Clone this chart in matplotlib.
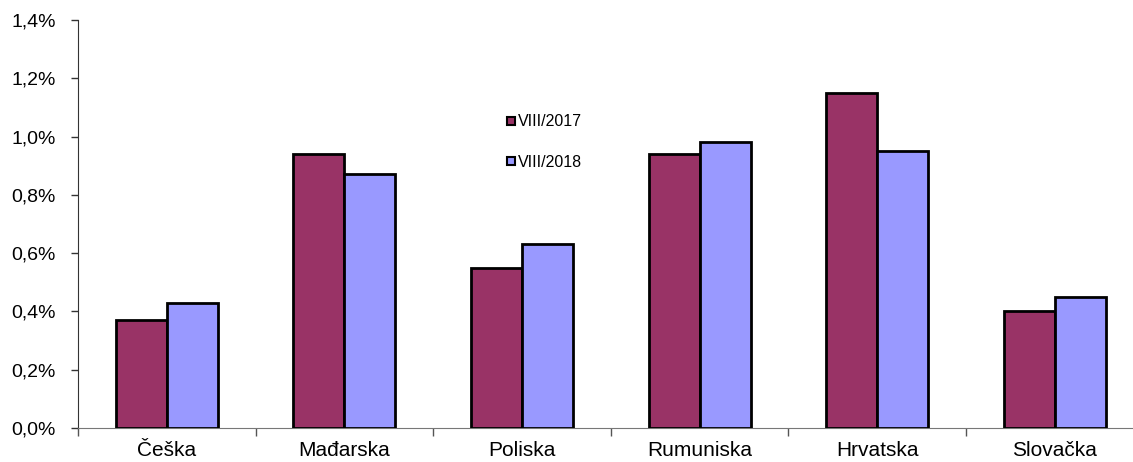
import matplotlib.pyplot as plt
import numpy as np
from matplotlib.lines import Line2D
from matplotlib.ticker import FuncFormatter

# data
countries = ['Češka', 'Mađarska', 'Poliska', 'Rumuniska', 'Hrvatska', 'Slovačka']
v2017 = [0.37, 0.94, 0.55, 0.94, 1.15, 0.40]
v2018 = [0.43, 0.87, 0.63, 0.98, 0.95, 0.45]
labels = ['VIII/2017', 'VIII/2018']
colors = ['#993366', '#9999FF']

plt.rcParams['font.family'] = ['Liberation Sans', 'DejaVu Sans']

W, H = 1133, 462
fig = plt.figure(figsize=(W / 100, H / 100), dpi=100)
ax = fig.add_axes([78 / W, (H - 428) / H, 1065.6 / W, 408 / H])

x = np.arange(len(countries))
bw = 0.287
ax.bar(x - bw / 2, v2017, bw, color=colors[0], edgecolor='black', linewidth=2, zorder=3)
ax.bar(x + bw / 2, v2018, bw, color=colors[1], edgecolor='black', linewidth=2, zorder=3)

ax.set_xlim(-0.5, len(countries) - 0.5)
ax.set_ylim(0, 1.4)
ax.set_yticks(np.arange(0, 1.41, 0.2))
ax.yaxis.set_major_formatter(FuncFormatter(lambda v, p: ('%.1f%%' % v).replace('.', ',')))

# category boundaries as ticks, names centred in between
ax.set_xticks(np.arange(-0.5, len(countries), 1.0))
ax.set_xticklabels([])
ax.set_xticks(x, minor=True)
ax.set_xticklabels(countries, minor=True)
ax.tick_params(axis='x', which='minor', length=0, labelsize=15, pad=9)
ax.tick_params(axis='x', which='major', length=6, width=1, color='#555555')
ax.tick_params(axis='y', length=5, width=1, labelsize=14, pad=11, color='#333333')

for s in ['top', 'right']:
    ax.spines[s].set_visible(False)
ax.spines['left'].set_color('#333333')
ax.spines['bottom'].set_color('#777777')

handles = [Line2D([], [], marker='s', linestyle='none', markersize=6,
                  markerfacecolor=c, markeredgecolor='black', markeredgewidth=1.5)
           for c in colors]
ax.legend(handles, labels, loc='upper left', bbox_to_anchor=((500 - 78) / 1065.6, (428 - 108) / 408),
          frameon=False, fontsize=11.5, handlelength=0.6, handletextpad=0.1, labelspacing=1.6,
          borderaxespad=0)

fig.savefig('out.png', dpi=100)
